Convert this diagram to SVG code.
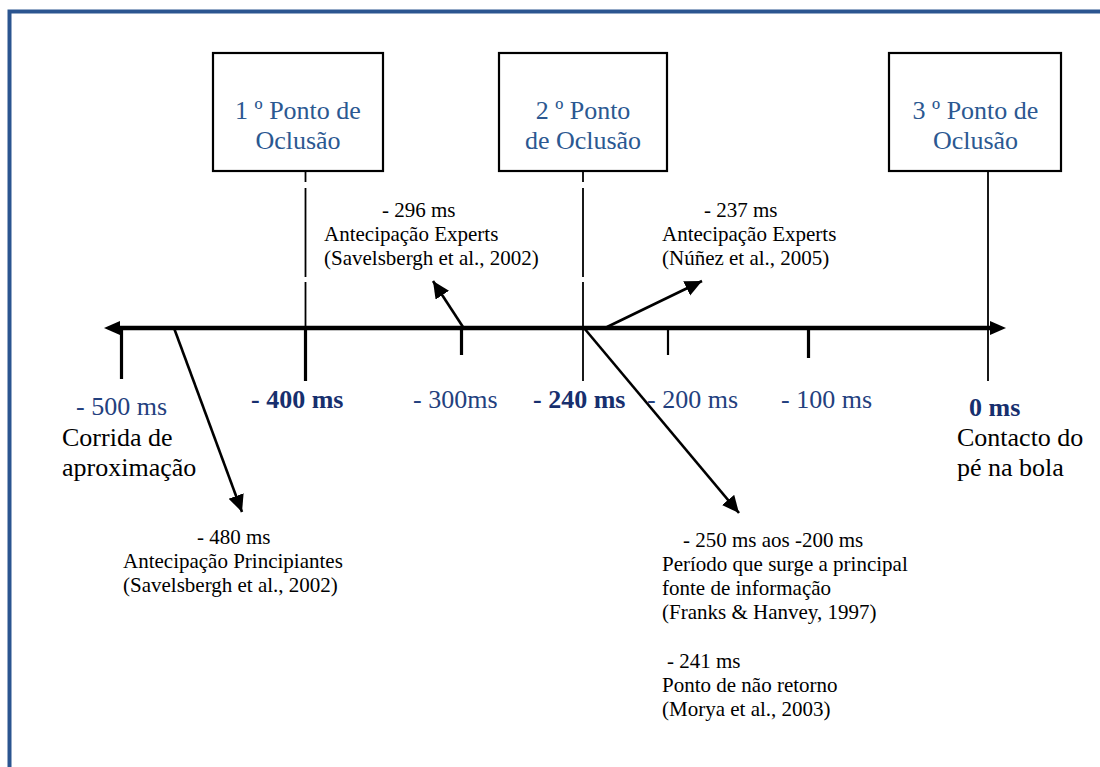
<svg xmlns="http://www.w3.org/2000/svg" width="1100" height="767" viewBox="0 0 1100 767">
<style>
  .box { fill: #ffffff; stroke: #000000; stroke-width: 2.2; }
  .boxtxt { font-family: "Liberation Serif", serif; font-size: 26px; fill: #2b5891; text-anchor: middle; }
  .axlbl { font-family: "Liberation Serif", serif; font-size: 26px; fill: #23407e; }
  .axbold { font-family: "Liberation Serif", serif; font-size: 26px; fill: #172f6e; font-weight: bold; }
  .blk { font-family: "Liberation Serif", serif; font-size: 26px; fill: #000000; }
  .note { font-family: "Liberation Serif", serif; font-size: 21px; fill: #000000; }
  .vline { stroke: #000000; stroke-width: 1.8; fill: none; }
  .tick { stroke: #000000; stroke-width: 3.2; fill: none; }
  .axis { stroke: #000000; stroke-width: 4.5; fill: none; }
  .arr { stroke: #000000; stroke-width: 2.6; fill: none; marker-end: url(#ah); }
</style>
<defs>
  <marker id="ah" markerUnits="userSpaceOnUse" markerWidth="20" markerHeight="18" refX="17" refY="8" orient="auto">
    <path d="M0,0 L17,8 L0,16 Z" fill="#000000"/>
  </marker>
</defs>

<!-- page border -->
<path d="M9.5,790 L9.5,11.5 L1120,11.5" fill="none" stroke="#2b5590" stroke-width="4"/>

<!-- connectors -->
<g id="connectors">
  <line class="axis" x1="118" y1="328" x2="991" y2="328"/>
  <path d="M104,328 L120,321 L120,335 Z" fill="#000000"/>
  <path d="M1006,328 L990,321 L990,335 Z" fill="#000000"/>

  <line class="vline" x1="305.5" y1="171" x2="305.5" y2="182"/>
  <line class="vline" x1="305.5" y1="188" x2="305.5" y2="277"/>
  <line class="vline" x1="305.5" y1="282" x2="305.5" y2="328"/>
  <line class="tick" x1="305.5" y1="328" x2="305.5" y2="381"/>

  <line class="vline" x1="583" y1="171" x2="583" y2="182"/>
  <line class="vline" x1="583" y1="188" x2="583" y2="277"/>
  <line class="vline" x1="583" y1="282" x2="583" y2="381"/>

  <line class="vline" x1="988" y1="171" x2="988" y2="381"/>

  <line class="tick" x1="121.5" y1="328" x2="121.5" y2="379"/>
  <line class="tick" x1="461.5" y1="328" x2="461.5" y2="355"/>
  <line class="vline" x1="668" y1="328" x2="668" y2="355" style="stroke-width:2.2"/>
  <line class="tick" x1="808.5" y1="328" x2="808.5" y2="358"/>

  <line class="arr" x1="463" y1="327" x2="433" y2="281"/>
  <line class="arr" x1="607" y1="327" x2="702" y2="281"/>
  <line class="arr" x1="174" y1="328" x2="242" y2="512"/>
  <line class="arr" x1="584" y1="328" x2="739" y2="513"/>
</g>

<g id="node-oclusao-1">
  <rect class="box" x="213" y="53" width="170" height="118"/>
  <text class="boxtxt" x="298" y="119">1 º Ponto de</text>
  <text class="boxtxt" x="298" y="149">Oclusão</text>
</g>
<g id="node-oclusao-2">
  <rect class="box" x="499" y="53" width="168" height="118"/>
  <text class="boxtxt" x="583" y="119">2 º Ponto</text>
  <text class="boxtxt" x="583" y="149">de Oclusão</text>
</g>
<g id="node-oclusao-3">
  <rect class="box" x="889" y="53" width="172" height="118"/>
  <text class="boxtxt" x="975.5" y="119">3 º Ponto de</text>
  <text class="boxtxt" x="975.5" y="149">Oclusão</text>
</g>

<g id="axis-labels">
  <text class="axlbl" x="76" y="415">- 500 ms</text>
  <text class="blk" x="62" y="446">Corrida de</text>
  <text class="blk" x="62" y="476">aproximação</text>
  <text class="axbold" x="251" y="408">- 400 ms</text>
  <text class="axlbl" x="413" y="408">- 300ms</text>
  <text class="axbold" x="533" y="408">- 240 ms</text>
  <text class="axlbl" x="647" y="408">- 200 ms</text>
  <text class="axlbl" x="781" y="408">- 100 ms</text>
  <text class="axbold" x="969" y="416">0 ms</text>
  <text class="blk" x="957" y="446">Contacto do</text>
  <text class="blk" x="957" y="476">pé na bola</text>
</g>

<g id="note-296">
  <text class="note" x="382" y="217">- 296 ms</text>
  <text class="note" x="324" y="241">Antecipação Experts</text>
  <text class="note" x="324" y="265">(Savelsbergh et al., 2002)</text>
</g>
<g id="note-237">
  <text class="note" x="704" y="217">- 237 ms</text>
  <text class="note" x="662" y="241">Antecipação Experts</text>
  <text class="note" x="662" y="265">(Núñez et al., 2005)</text>
</g>
<g id="note-480">
  <text class="note" x="197" y="544">- 480 ms</text>
  <text class="note" x="123" y="568">Antecipação Principiantes</text>
  <text class="note" x="123" y="592">(Savelsbergh et al., 2002)</text>
</g>
<g id="note-250">
  <text class="note" x="683" y="547">- 250 ms aos -200 ms</text>
  <text class="note" x="662" y="571">Período que surge a principal</text>
  <text class="note" x="662" y="595">fonte de informação</text>
  <text class="note" x="662" y="619">(Franks &amp; Hanvey, 1997)</text>
  <text class="note" x="667" y="668">- 241 ms</text>
  <text class="note" x="662" y="692">Ponto de não retorno</text>
  <text class="note" x="662" y="716">(Morya et al., 2003)</text>
</g>
</svg>
